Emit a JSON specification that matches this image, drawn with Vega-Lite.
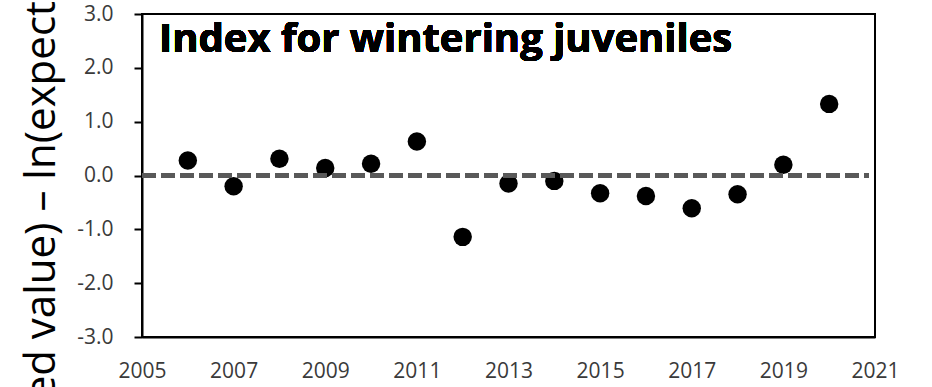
{
  "$schema": "https://vega.github.io/schema/vega-lite/v6.json",
  "autosize": {"type": "none"},
  "padding": {"left": 142, "top": 14, "right": 57, "bottom": 50},
  "width": 733,
  "height": 323,
  "background": "white",
  "config": {
    "view": {"stroke": "black", "strokeWidth": 2},
    "font": "Open Sans",
    "axis": {"grid": false}
  },
  "data": {
    "values": [
      {"year": 2006, "index": 0.28},
      {"year": 2007, "index": -0.20},
      {"year": 2008, "index": 0.31},
      {"year": 2009, "index": 0.14},
      {"year": 2010, "index": 0.22},
      {"year": 2011, "index": 0.63},
      {"year": 2012, "index": -1.14},
      {"year": 2013, "index": -0.15},
      {"year": 2014, "index": -0.10},
      {"year": 2015, "index": -0.33},
      {"year": 2016, "index": -0.38},
      {"year": 2017, "index": -0.61},
      {"year": 2018, "index": -0.35},
      {"year": 2019, "index": 0.20},
      {"year": 2020, "index": 1.33}
    ]
  },
  "encoding": {
    "x": {
      "field": "year",
      "type": "quantitative",
      "scale": {"domain": [2005, 2021], "nice": false, "zero": false},
      "axis": {
        "title": null,
        "values": [2005, 2007, 2009, 2011, 2013, 2015, 2017, 2019, 2021],
        "format": "d",
        "ticks": false,
        "labelPadding": 23,
        "labelFontSize": 21,
        "labelColor": "#3a3a3a",
        "labelFont": "Open Sans",
        "domainColor": "black",
        "domainWidth": 2,
        "labelFlush": false,
        "labelOverlap": false
      }
    },
    "y": {
      "field": "index",
      "type": "quantitative",
      "scale": {"domain": [-3, 3], "nice": false},
      "axis": {
        "title": "ln(observed value) – ln(expected value)",
        "titleFont": "Open Sans",
        "titleFontSize": 42,
        "titleFontWeight": "normal",
        "titleColor": "black",
        "titleBaseline": "alphabetic",
        "titleX": -88,
        "titleY": 188,
        "titleAngle": -90,
        "titleAlign": "center",
        "values": [-3, -2, -1, 0, 1, 2, 3],
        "labelExpr": "replace(format(datum.value, '.1f'), '\u2212', '-')",
        "tickSize": 8,
        "tickColor": "black",
        "tickWidth": 2,
        "labelPadding": 21,
        "labelFontSize": 21,
        "labelColor": "#3a3a3a",
        "labelFont": "Open Sans",
        "domainColor": "black",
        "domainWidth": 2,
        "labelFlush": false,
        "labelOverlap": false
      }
    }
  },
  "layer": [
    {
      "mark": {"type": "point", "shape": "circle", "filled": true, "size": 340, "color": "black", "opacity": 1}
    },
    {
      "mark": {"type": "rule", "color": "#595959", "strokeWidth": 4, "strokeDash": [14, 5]},
      "encoding": {
        "x": {"value": 0},
        "x2": {"value": 727},
        "y": {"datum": 0}
      }
    },
    {
      "mark": {
        "type": "text",
        "text": "Index for wintering juveniles",
        "font": "Open Sans",
        "fontSize": 40,
        "fontWeight": "bold",
        "color": "black",
        "align": "left",
        "baseline": "alphabetic"
      },
      "encoding": {
        "x": {"datum": 2005.37},
        "y": {"datum": 2.29}
      }
    }
  ]
}
